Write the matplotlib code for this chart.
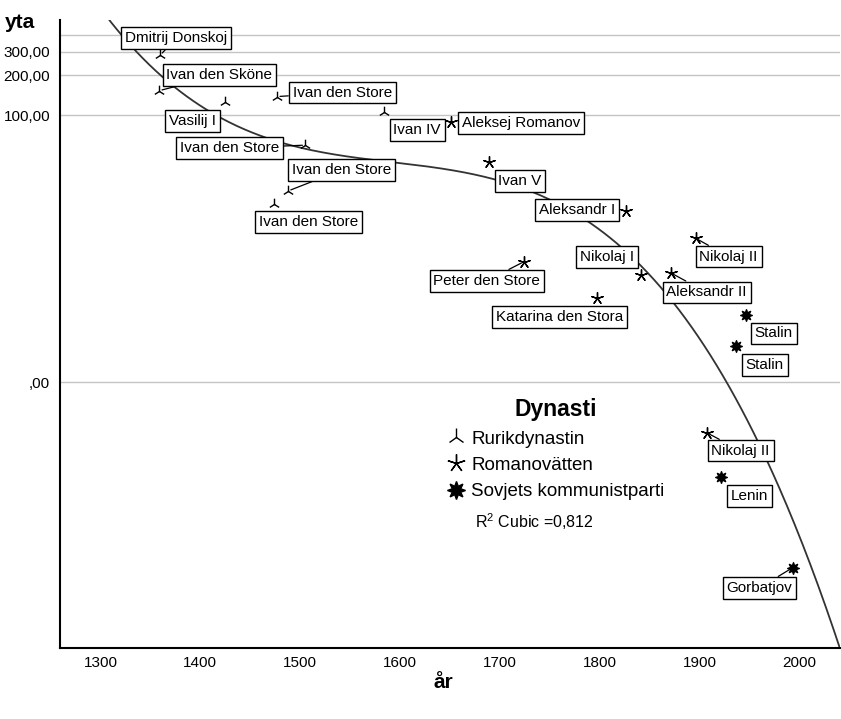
import numpy as np
import matplotlib
matplotlib.use('Agg')
import matplotlib.pyplot as plt
from matplotlib.lines import Line2D

plt.rcParams['font.family'] = ['Liberation Sans', 'DejaVu Sans']
plt.rcParams['mathtext.fontset'] = 'custom'
plt.rcParams['mathtext.rm'] = 'Liberation Sans'

# data
names = ['Dmitrij Donskoj', 'Ivan den Sköne', 'Vasilij I', 'Ivan den Store',
         'Ivan IV', 'Ivan den Store', 'Ivan den Store', 'Ivan den Store',
         'Aleksej Romanov', 'Ivan V', 'Aleksandr I', 'Peter den Store',
         'Nikolaj I', 'Nikolaj II', 'Aleksandr II', 'Katarina den Stora',
         'Stalin', 'Stalin', 'Nikolaj II', 'Lenin', 'Gorbatjov']
dynasti = ['Rurikdynastin'] * 8 + ['Romanovätten'] * 8 + \
    ['Sovjets kommunistparti'] * 2 + ['Romanovätten'] + \
    ['Sovjets kommunistparti'] * 2
years = [1360, 1359, 1425, 1477, 1584, 1505, 1488, 1474,
         1651, 1689, 1826, 1724, 1841, 1896, 1871, 1797,
         1946, 1936, 1907, 1921, 1993]
yta = [284, 153, 126, 138, 105, 59, 26.2, 20.7,
       89, 44, 18.2, 7.0, 5.36, 11.0, 5.6, 3.25,
       2.18, 0.87, -1.40, -4.19, -23.8]

groups = ['Rurikdynastin', 'Romanovätten', 'Sovjets kommunistparti']
ytick_vals = [0, 100, 200, 300, 400]
ytick_text = [',00', '100,00', '200,00', '300,00', '']
xtick_vals = [1300, 1400, 1500, 1600, 1700, 1800, 1900, 2000]

# label placement (pixels, right / up from the point) and leader lines
label_offsets = [(16, 17), (60, 15.5), (-33, -19), (65, 4), (33, -18),
                 (-75.5, -3), (53, 20.7), (34, -17.7), (70, -1), (31, -19),
                 (-49, 1), (-37, -19), (-34, 18), (33, -18.4), (36, -19.5),
                 (-37, -18.4), (28, -18.3), (29, -19), (34, -18), (29, -18.5),
                 (-33, -20)]
leader = [1, 1, 0, 1, 0, 1, 1, 0, 0, 0, 0, 1, 0, 1, 1, 0, 0, 0, 1, 0, 1]

markers = {'Rurikdynastin': '2',
           'Romanovätten': (5, 2, 0),
           'Sovjets kommunistparti': (8, 1, 0)}


def fwd(v):
    v = np.asarray(v, dtype=float)
    return np.sign(v) * np.log10(np.abs(v) + 1)


def inv(t):
    t = np.asarray(t, dtype=float)
    return np.sign(t) * (10 ** np.abs(t) - 1)


fig = plt.figure(figsize=(8.41, 7.19), dpi=100)
ax = fig.add_axes([60 / 841, 71 / 719, 780 / 841, 628 / 719])
ax.set_yscale('function', functions=(fwd, inv))

years_a = np.array(years)
yta_a = np.array(yta)
dyn_a = np.array(dynasti)

for g in groups:
    m = dyn_a == g
    ax.scatter(years_a[m], yta_a[m], marker=markers[g], s=70,
               color='black', linewidths=1.0, zorder=4)

# cubic fit on the transformed scale
coef = np.polyfit(years_a, fwd(yta_a), 3)
xs = np.linspace(1259.5, 2040.5, 500)
ax.plot(xs, inv(np.polyval(coef, xs)), color='#333333', lw=1.3, zorder=2)

for i, name in enumerate(names):
    arrow = None
    if leader[i]:
        arrow = dict(arrowstyle='-', lw=0.9, color='black',
                     shrinkA=0, shrinkB=2)
    ax.annotate(name, (years[i], yta[i]), xytext=label_offsets[i],
                textcoords='offset pixels', ha='center', va='center',
                fontsize=11,
                bbox=dict(boxstyle='square,pad=0.25', fc='white',
                          ec='black', lw=1.0),
                arrowprops=arrow, zorder=3)

ax.set_xlim(1259.5, 2040.5)
ax.set_ylim(-98.3, 521)
ax.set_yticks(ytick_vals, labels=ytick_text)
ax.set_xticks(xtick_vals)
ax.tick_params(length=0, labelsize=11)
ax.tick_params(axis='y', pad=7)
ax.tick_params(axis='x', pad=6)
ax.grid(axis='y', color='#c4c4c4', lw=1.0)
ax.set_axisbelow(True)
for s in ['top', 'right']:
    ax.spines[s].set_visible(False)
for s in ['left', 'bottom']:
    ax.spines[s].set_linewidth(1.5)

handles = [Line2D([], [], marker=markers[g], ls='none', color='black',
                  markersize=13, markeredgewidth=1.0) for g in groups]
ax.legend(handles, groups, title='Dynasti', loc='upper left',
          bbox_to_anchor=(447 / 841, 1 - 398 / 719),
          bbox_transform=fig.transFigure, frameon=False,
          prop={'size': 13.5},
          title_fontproperties={'size': 16.5, 'weight': 'bold'},
          handletextpad=0.3, labelspacing=0.5, handlelength=1.0,
          borderpad=0, borderaxespad=0)
fig.text(475 / 841, 1 - 522 / 719, r'R$^{\mathrm{2}}$ Cubic =0,812',
         fontsize=11.5, va='center')

fig.text(5 / 841, 1 - 22 / 719, 'yta', fontsize=15, fontweight='bold',
         va='center')
fig.text(443 / 841, 1 - 683 / 719, 'år', fontsize=15, fontweight='bold',
         va='center', ha='center')

fig.savefig('out.png', dpi=100)
